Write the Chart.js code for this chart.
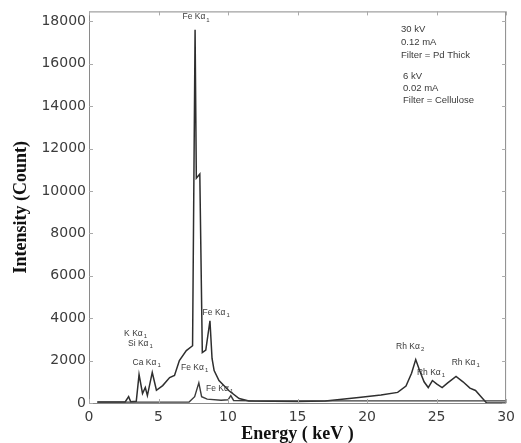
<!DOCTYPE html>
<html>
<head>
<meta charset="utf-8">
<script src="https://cdn.jsdelivr.net/npm/chart.js@4"></script>
<style>
body{margin:0;background:#fff}
</style>
</head>
<body>
<canvas id="chart" width="521" height="443"></canvas>
<script>
// spectrum with the strong Fe line and the Rh tube lines
let energyA=[0.6,2.6,2.85,3.0,3.4,3.6,3.85,4.05,4.2,4.55,4.85,5.3,5.8,6.15,6.5,7.0,7.45,7.63,7.72,7.97,8.15,8.4,8.7,8.85,9.0,9.35,10.05,10.8,11.5,15,17,19.4,21,22.2,22.8,23.2,23.5,23.8,24.1,24.4,24.7,25.0,25.4,25.8,26.4,26.9,27.4,27.8,28.2,28.6,30]
let countA=[50,50,300,60,80,1340,450,730,350,1440,600,820,1200,1300,2000,2470,2700,17600,10600,10800,2380,2500,3880,2100,1530,1060,590,210,100,70,100,260,380,500,800,1400,2050,1500,1000,730,1060,900,730,950,1250,1000,700,590,300,0,0]

// low spectrum
let energyB=[0.6,7.2,7.6,7.9,8.1,8.5,9.5,10.0,10.2,10.4,12,30]
let countB=[40,50,300,950,300,180,130,150,350,120,100,100]

let xTicks=[0,5,10,15,20,25,30]
let yTicks=[0,2000,4000,6000,8000,10000,12000,14000,16000,18000]

let peakNames=["Fe Kα","Fe Kα","K Kα","Si Kα","Ca Kα","Fe Kα","Fe Kα","Rh Kα","Rh Kα","Rh Kα"]
let peakSubs=["1","1","1","1","1","1","1","2","1","1"]
let peakEnergy=[7.7,9.15,3.35,3.7,4.15,7.6,9.4,23.1,24.6,27.1]
let peakCount=[18200,4260,3270,2800,1900,1670,680,2650,1440,1900]

let noteLines=["30 kV","0.12 mA","Filter = Pd Thick","6 kV","0.02 mA","Filter = Cellulose"]

let toPoints=(xs,ys)=>xs.map((x,i)=>({x:x,y:ys[i]}))

let sans="'Liberation Sans', Arial, sans-serif"

let extras={
id:"extras",
afterDraw(chart){
let ctx=chart.ctx
let a=chart.chartArea
let xs=chart.scales.x
let ys=chart.scales.y
ctx.save()
ctx.strokeStyle="#8a8a8a"
ctx.lineWidth=1
ctx.strokeRect(a.left+0.5,a.top+0.5,a.right-a.left-1,a.bottom-a.top)
// inner tick marks, matlab style
ctx.strokeStyle="#aaa"
ctx.beginPath()
xs.ticks.forEach(t=>{
let px=Math.round(xs.getPixelForValue(t.value))+0.5
ctx.moveTo(px,a.bottom);ctx.lineTo(px,a.bottom-4)
ctx.moveTo(px,a.top);ctx.lineTo(px,a.top+4)
})
ys.ticks.forEach(t=>{
let py=Math.round(ys.getPixelForValue(t.value))+0.5
ctx.moveTo(a.left,py);ctx.lineTo(a.left+4,py)
ctx.moveTo(a.right,py);ctx.lineTo(a.right-4,py)
})
ctx.stroke()

// peak labels
ctx.fillStyle="#3a3a3a"
ctx.textBaseline="middle"
ctx.textAlign="left"
peakNames.forEach((name,i)=>{
let x=xs.getPixelForValue(peakEnergy[i])
let y=ys.getPixelForValue(peakCount[i])
ctx.font="8.5px "+sans
let w1=ctx.measureText(name).width
ctx.font="6px "+sans
let w2=ctx.measureText(peakSubs[i]).width
let left=x-(w1+w2+1)/2
ctx.font="8.5px "+sans
ctx.fillText(name,left,y)
ctx.font="6px "+sans
ctx.fillText(peakSubs[i],left+w1+1,y+3)
})

// settings note
ctx.font="9.5px "+sans
let noteY=[29,42,55,76,88,100]
noteLines.forEach((s,i)=>{
ctx.fillText(s,a.left+312+(i>2?2:0),noteY[i])
})
ctx.restore()
}
}

new Chart(document.getElementById("chart"),{
type:"line",
data:{
datasets:[
{label:"B",data:toPoints(energyB,countB),borderColor:"#3c3c3c",borderWidth:1.4,pointRadius:0,tension:0},
{label:"A",data:toPoints(energyA,countA),borderColor:"#2e2e2e",borderWidth:1.5,pointRadius:0,tension:0}
]
},
options:{
responsive:false,
animation:false,
devicePixelRatio:1,
layout:{padding:{left:0,top:10,right:12,bottom:0}},
plugins:{legend:{display:false},tooltip:{enabled:false}},
scales:{
x:{
type:"linear",min:0,max:30,
grid:{display:false,drawTicks:false},
border:{display:false},
ticks:{padding:6,color:"#3c3c3c",font:{family:"'DejaVu Sans'",size:14},callback:v=>String(v)},
afterBuildTicks(s){s.ticks=xTicks.map(v=>({value:v}))},
title:{display:true,text:"Energy ( keV )",color:"#111",padding:{top:0,bottom:0},font:{family:"'Liberation Serif', 'Times New Roman', serif",size:18,weight:"bold",lineHeight:1}},
afterFit(s){s.height=40}
},
y:{
min:0,max:18470,
grid:{display:false,drawTicks:false},
border:{display:false},
ticks:{padding:3,color:"#3c3c3c",font:{family:"'DejaVu Sans'",size:14},callback:v=>String(v)},
afterBuildTicks(s){s.ticks=yTicks.map(v=>({value:v}))},
title:{display:true,text:"Intensity (Count)",color:"#111",padding:{top:12,bottom:0},font:{family:"'Liberation Serif', 'Times New Roman', serif",size:18,weight:"bold",lineHeight:1}},
afterFit(s){s.width=89}
}
}
},
plugins:[extras]
})
</script>
</body>
</html>
